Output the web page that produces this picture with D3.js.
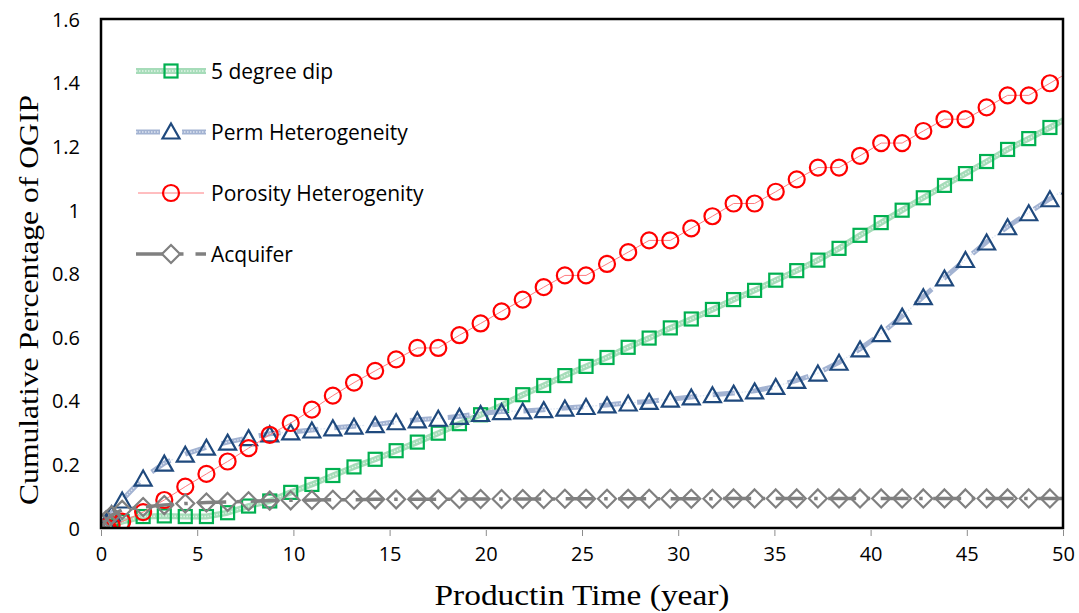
<!DOCTYPE html>
<html>
<head>
<meta charset="utf-8">
<script src="https://cdn.jsdelivr.net/npm/d3@7"></script>
<style>
  html, body { margin: 0; padding: 0; background: #fff; }
  svg { display: block; }
</style>
</head>
<body>
<svg id="chart" width="1079" height="613"></svg>
<script>
// ---------------- DATA ----------------
const times = [0, 0.27, 0.55, 1.10, 2.19, 3.29, 4.38, 5.48, 6.58, 7.67, 8.77, 9.86, 10.96,
  12.05, 13.15, 14.25, 15.34, 16.44, 17.53, 18.63, 19.73, 20.82, 21.92, 23.01, 24.11,
  25.21, 26.30, 27.40, 28.49, 29.59, 30.68, 31.78, 32.88, 33.97, 35.07, 36.16, 37.26,
  38.36, 39.45, 40.55, 41.64, 42.74, 43.84, 44.93, 46.03, 47.12, 48.22, 49.32, 50.41];

const dipValues = [0, 0.004, 0.01, 0.02, 0.036, 0.038, 0.036, 0.036, 0.048, 0.069, 0.085, 0.112, 0.137,
  0.165, 0.192, 0.216, 0.243, 0.27, 0.298, 0.328, 0.356, 0.385, 0.419, 0.448, 0.479,
  0.508, 0.536, 0.568, 0.597, 0.629, 0.657, 0.687, 0.718, 0.747, 0.779, 0.809, 0.842,
  0.879, 0.92, 0.96, 0.999, 1.038, 1.077, 1.114, 1.152, 1.19, 1.224, 1.259, 1.295];

const permValues = [0, 0.02, 0.045, 0.088, 0.157, 0.204, 0.232, 0.254, 0.27, 0.284, 0.296, 0.302, 0.308,
  0.315, 0.32, 0.325, 0.334, 0.34, 0.345, 0.351, 0.36, 0.366, 0.368, 0.372, 0.377,
  0.382, 0.387, 0.393, 0.398, 0.405, 0.412, 0.419, 0.424, 0.431, 0.445, 0.464, 0.487,
  0.521, 0.563, 0.611, 0.666, 0.727, 0.786, 0.844, 0.899, 0.947, 0.991, 1.035, 1.075];

const porosityValues = [0, 0.003, 0.01, 0.02, 0.05, 0.088, 0.13, 0.17, 0.209, 0.251, 0.293, 0.33, 0.372,
  0.416, 0.457, 0.494, 0.53, 0.566, 0.566, 0.606, 0.643, 0.681, 0.718, 0.757, 0.794,
  0.794, 0.83, 0.867, 0.904, 0.904, 0.942, 0.98, 1.02, 1.02, 1.057, 1.096, 1.133,
  1.133, 1.17, 1.21, 1.21, 1.248, 1.285, 1.285, 1.322, 1.36, 1.36, 1.398, 1.437];

const aquiferValues = [0, 0.025, 0.04, 0.057, 0.066, 0.072, 0.077, 0.08, 0.082, 0.084, 0.086, 0.087, 0.088,
  0.089, 0.089, 0.09, 0.09, 0.09, 0.09, 0.091, 0.091, 0.091, 0.091, 0.091, 0.092,
  0.092, 0.092, 0.092, 0.092, 0.092, 0.092, 0.092, 0.093, 0.093, 0.093, 0.093, 0.093,
  0.093, 0.093, 0.093, 0.093, 0.093, 0.093, 0.093, 0.093, 0.093, 0.093, 0.093, 0.093];

const seriesNames = ["5 degree dip", "Perm Heterogeneity", "Porosity Heterogenity", "Acquifer"];
const xTicks = [0, 5, 10, 15, 20, 25, 30, 35, 40, 45, 50];
const yTicks = [0, 0.2, 0.4, 0.6, 0.8, 1, 1.2, 1.4, 1.6];
const yTickLabels = ["0", "0.2", "0.4", "0.6", "0.8", "1", "1.2", "1.4", "1.6"];
const xTitle = "Productin Time (year)";
const yTitle = "Cumulative Percentage of OGIP";

// ---------------- LAYOUT ----------------
const svg = d3.select("#chart");
const plot = { left: 101, right: 1063, top: 19, bottom: 528 };
const x = d3.scaleLinear().domain([0, 50]).range([plot.left, plot.right]);
const y = d3.scaleLinear().domain([0, 1.6]).range([plot.bottom, plot.top]);

const sansFont = "'Open Sans', 'Noto Sans', sans-serif";
const serifFont = "'Liberation Serif', 'DejaVu Serif', serif";

svg.append("defs").append("clipPath").attr("id", "plotClip")
  .append("rect").attr("x", plot.left).attr("y", plot.top)
  .attr("width", plot.right - plot.left).attr("height", plot.bottom - plot.top);

// ---------------- AXES ----------------
const xAxis = d3.axisBottom(x).tickValues(xTicks).tickSize(6).tickFormat(d3.format("d"));
const gx = svg.append("g").attr("transform", `translate(0,${plot.bottom})`).call(xAxis);
gx.select(".domain").remove();
gx.selectAll(".tick line").attr("stroke", "#8c8c8c").attr("stroke-width", 1).attr("y1", 2).attr("y2", 8);
gx.selectAll(".tick text").attr("font-family", sansFont).attr("font-size", 20)
  .attr("fill", "#000").attr("y", 19).attr("dy", "0.71em");

const yAxis = d3.axisLeft(y).tickValues(yTicks).tickSize(0)
  .tickFormat((d, i) => yTickLabels[i]);
const gy = svg.append("g").attr("transform", `translate(${plot.left},0)`).call(yAxis);
gy.select(".domain").remove();
gy.selectAll(".tick text").attr("font-family", sansFont).attr("font-size", 20)
  .attr("fill", "#000").attr("x", -21).attr("dy", "0.36em");

// ---------------- SERIES ----------------
const g = svg.append("g").attr("clip-path", "url(#plotClip)");
const line = d3.line().x(d => x(d[0])).y(d => y(d[1]));
const pts = vals => times.map((t, i) => [t, vals[i]]);

const dipPts = pts(dipValues), permPts = pts(permValues),
      porPts = pts(porosityValues), aqPts = pts(aquiferValues);

const colors = {
  dipLine: "#a6dcb9", dipLight: "#e3f5e9", dipMarker: "#00b050",
  permLine: "#a3b3d2", permLight: "#dfe6f2", permMarker: "#1f497d",
  porLine: "#ff7c80", porMarker: "#ff0000",
  aqLine: "#808080", aqMarker: "#808080"
};

// marker shapes
const sq = 13, tri = { w: 17, h: 15 }, dia = 9, circR = 8;
function drawSquares(sel, data, color) {
  sel.selectAll(null).data(data).enter().append("rect")
    .attr("x", d => x(d[0]) - sq / 2).attr("y", d => y(d[1]) - sq / 2)
    .attr("width", sq).attr("height", sq)
    .attr("fill", "none").attr("stroke", color).attr("stroke-width", 2.2);
}
function triPath(cx, cy) {
  return `M${cx},${cy - tri.h / 2}L${cx + tri.w / 2},${cy + tri.h / 2}L${cx - tri.w / 2},${cy + tri.h / 2}Z`;
}
function drawTriangles(sel, data, color) {
  sel.selectAll(null).data(data).enter().append("path")
    .attr("d", d => triPath(x(d[0]), y(d[1])))
    .attr("fill", "none").attr("stroke", color).attr("stroke-width", 2.2);
}
function drawCircles(sel, data, color) {
  sel.selectAll(null).data(data).enter().append("circle")
    .attr("cx", d => x(d[0])).attr("cy", d => y(d[1])).attr("r", circR)
    .attr("fill", "none").attr("stroke", color).attr("stroke-width", 2.2);
}
function diaPath(cx, cy) {
  return `M${cx},${cy - dia}L${cx + dia},${cy}L${cx},${cy + dia}L${cx - dia},${cy}Z`;
}
function drawDiamonds(sel, data, color) {
  sel.selectAll(null).data(data).enter().append("path")
    .attr("d", d => diaPath(x(d[0]), y(d[1])))
    .attr("fill", "none").attr("stroke", color).attr("stroke-width", 2.2);
}

// 5 degree dip: textured thick line
g.append("path").datum(dipPts).attr("d", line).attr("fill", "none")
  .attr("stroke", colors.dipLine).attr("stroke-width", 6).attr("stroke-linejoin", "round");
g.append("path").datum(dipPts).attr("d", line).attr("fill", "none")
  .attr("stroke", colors.dipLight).attr("stroke-width", 1.4).attr("stroke-dasharray", "1.5,1.5");
drawSquares(g, dipPts, colors.dipMarker);
// Perm heterogeneity: textured dashed line
g.append("path").datum(permPts).attr("d", line).attr("fill", "none")
  .attr("stroke", colors.permLine).attr("stroke-width", 5).attr("stroke-dasharray", "22,16");
g.append("path").datum(permPts).attr("d", line).attr("fill", "none")
  .attr("stroke", colors.permLight).attr("stroke-width", 1.3).attr("stroke-dasharray", "1.5,1.5,1.5,1.5,1.5,1.5,1.5,1.5,1.5,1.5,1.5,1.5,1.5,1.5,2,16");
drawTriangles(g, permPts, colors.permMarker);
// Porosity heterogeneity
g.append("path").datum(porPts).attr("d", line).attr("fill", "none")
  .attr("stroke", colors.porLine).attr("stroke-width", 1);
drawCircles(g, porPts, colors.porMarker);
// Aquifer
g.append("path").datum(aqPts).attr("d", line).attr("fill", "none")
  .attr("stroke", colors.aqLine).attr("stroke-width", 3.5).attr("stroke-dasharray", "28,10.5,3.5,10.5");
drawDiamonds(g, aqPts, colors.aqMarker);

// ---------------- FRAME ----------------
svg.append("rect").attr("x", plot.left).attr("y", plot.top)
  .attr("width", plot.right - plot.left).attr("height", plot.bottom - plot.top)
  .attr("fill", "none").attr("stroke", "#000").attr("stroke-width", 2.5);

// ---------------- LEGEND ----------------
const legY = [71, 132, 193, 254];
const lg = svg.append("g");
const lx0 = 136, lx1 = 206, lm = 171;
// dip
{
  const yy = legY[0];
  const path = `M${lx0},${yy}L${lx1},${yy}`;
  lg.append("path").attr("d", path).attr("stroke", colors.dipLine).attr("stroke-width", 6).attr("fill", "none");
  lg.append("path").attr("d", path).attr("stroke", colors.dipLight).attr("stroke-width", 1.4)
    .attr("stroke-dasharray", "1.5,1.5").attr("fill", "none");
  lg.append("rect").attr("x", lm - sq / 2).attr("y", yy - sq / 2).attr("width", sq).attr("height", sq)
    .attr("fill", "none").attr("stroke", colors.dipMarker).attr("stroke-width", 2.2);
}
// perm
{
  const yy = legY[1];
  lg.append("path").attr("d", `M${lx0},${yy}L${lx1},${yy}`).attr("stroke", colors.permLine)
    .attr("stroke-width", 5).attr("stroke-dasharray", "24,22").attr("fill", "none");
  lg.append("path").attr("d", `M${lx0},${yy}L${lx1},${yy}`).attr("stroke", colors.permLight)
    .attr("stroke-width", 1.3).attr("stroke-dasharray", "1.5,1.5").attr("fill", "none");
  lg.append("rect").attr("x", 160).attr("y", yy - 4).attr("width", 22).attr("height", 8).attr("fill", "#fff");
  lg.append("path").attr("d", triPath(lm, yy - 1)).attr("fill", "none")
    .attr("stroke", colors.permMarker).attr("stroke-width", 2.2);
}
// porosity
{
  const yy = legY[2];
  lg.append("path").attr("d", `M${lx0 + 2},${yy}L${lx1 - 2},${yy}`).attr("stroke", colors.porLine)
    .attr("stroke-width", 1).attr("fill", "none");
  lg.append("circle").attr("cx", lm).attr("cy", yy).attr("r", circR).attr("fill", "none")
    .attr("stroke", colors.porMarker).attr("stroke-width", 2.2);
}
// aquifer
{
  const yy = legY[3];
  lg.append("path").attr("d", `M${lx0},${yy}L${lx1},${yy}`).attr("stroke", colors.aqLine)
    .attr("stroke-width", 3.5).attr("stroke-dasharray", "36,8,3.5,12").attr("fill", "none");
  lg.append("path").attr("d", diaPath(lm, yy)).attr("fill", "#fff")
    .attr("stroke", colors.aqMarker).attr("stroke-width", 2.2);
}
lg.selectAll("text.leg").data(seriesNames).enter().append("text")
  .attr("class", "leg").attr("x", 211).attr("y", (d, i) => legY[i]).attr("dy", "0.36em")
  .attr("font-family", sansFont).attr("font-size", 21).attr("fill", "#000").text(d => d);

// ---------------- TITLES ----------------
svg.append("text").attr("x", 582).attr("y", 605).attr("text-anchor", "middle")
  .attr("font-family", serifFont).attr("font-size", 29).attr("fill", "#000")
  .attr("textLength", 295).attr("lengthAdjust", "spacingAndGlyphs").text(xTitle);
svg.append("text").attr("transform", "translate(38,300) rotate(-90)").attr("text-anchor", "middle")
  .attr("font-family", serifFont).attr("font-size", 28).attr("fill", "#000")
  .attr("textLength", 410).attr("lengthAdjust", "spacingAndGlyphs").text(yTitle);
</script>
</body>
</html>
